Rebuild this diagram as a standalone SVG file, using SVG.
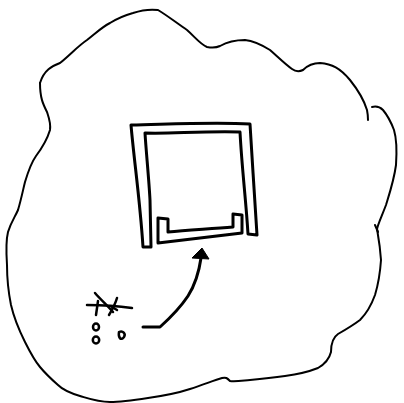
<svg xmlns="http://www.w3.org/2000/svg" width="404" height="403" viewBox="0 0 404 403">
<style>
.s{fill:none;stroke:#000;stroke-linecap:round;stroke-linejoin:round}
.b{stroke-width:2}
.f{stroke-width:2.5}
.t{stroke-width:3}
</style>
<rect width="404" height="403" fill="#fff"/>
<g id="blob">
<path class="s b" d="M40,83 C44,70 52,66 60,63 C70,55 78,46 87,40 C96,33 102,27 110,23 C118,18 126,15 133,13 C142,10 150,9 158,10 C168,16 178,24 187,30 C195,37 200,44 207,47 C212,48 216,48 220,46 C227,42 234,40 245,40 C255,41 262,45 270,50 C278,57 285,64 292,69 C296,72 299,72 303,70 C307,66 312,63 320,63 C332,64 340,68 350,80 C358,90 364,100 367,110 C368,115 368,118 368,120"/>
<path class="s b" d="M372,107 C376,106 380,107 383,110 C388,116 391,122 394,130 C397,140 397,150 396,165 C394,180 390,192 386,205 C381,218 378,224 377,229 C378,235 380,245 381,260 C380,275 378,285 375,295 C371,306 367,313 360,320 C352,326 345,330 338,334 C332,338 331,345 331,352 C329,360 325,364 318,368 C308,372 300,374 285,376 C270,378 260,379 250,380 C240,381 234,382 230,381 C227,378 226,377 222,378 C215,380 205,384 190,389 C175,394 162,396 148,398 C135,400 122,402 110,402 C98,402 90,399 80,396 C70,393 63,390 58,385 C50,378 45,373 40,367 C34,360 30,352 25,342 C19,330 14,318 11,305 C8,290 7,278 7,265 C6,250 6,240 8,232 C11,222 15,217 18,210 C21,200 23,190 25,182 C28,172 31,163 36,156 C42,148 47,140 50,130 C51,123 49,118 47,112 C43,104 40,98 40,83"/>
<path class="s b" d="M375,225 L378,232"/>
</g>
<g id="frame">
<path class="s t" d="M145,247 L151,247 L150,200 C149,180 146,150 145,133 C170,134 200,131 240,132 C242,170 246,200 248,234 L257,235 C255,200 252,160 250,124 C215,122 175,124 131,125 C134,160 140,200 143,247"/>
</g>
<g id="tray">
<path class="s t" d="M158,218 L158,243 C185,240 215,236 242,233 L242,215 L233,214 L233,227 C210,229 188,230 168,232 L168,219 Z"/>
</g>
<g id="figure">
<path class="s f" d="M87,305 C102,305 118,306 132,308"/>
<path class="s f" d="M95,293 C101,300 108,306 113,312"/>
<path class="s f" d="M98,301 L96,315"/>
<path class="s f" d="M117,298 C115,305 112,310 109,315"/>
<path class="s f" d="M112,307 L117,310"/>
<ellipse class="s f" cx="96" cy="327" rx="3" ry="3.5"/>
<ellipse class="s f" cx="96" cy="340" rx="3.2" ry="3.5"/>
<path class="s f" d="M119,332 C123,330 126,334 124,337 C121,341 118,338 119,332 Z"/>
</g>
<g id="connectors">
<path class="s t" d="M143,327 L160,327 C170,318 180,308 188,296 C195,285 199,272 201,258"/>
<polygon points="202,248 192,258 209,259" fill="#000" stroke="#000" stroke-width="1" stroke-linejoin="round"/>
</g>
</svg>
